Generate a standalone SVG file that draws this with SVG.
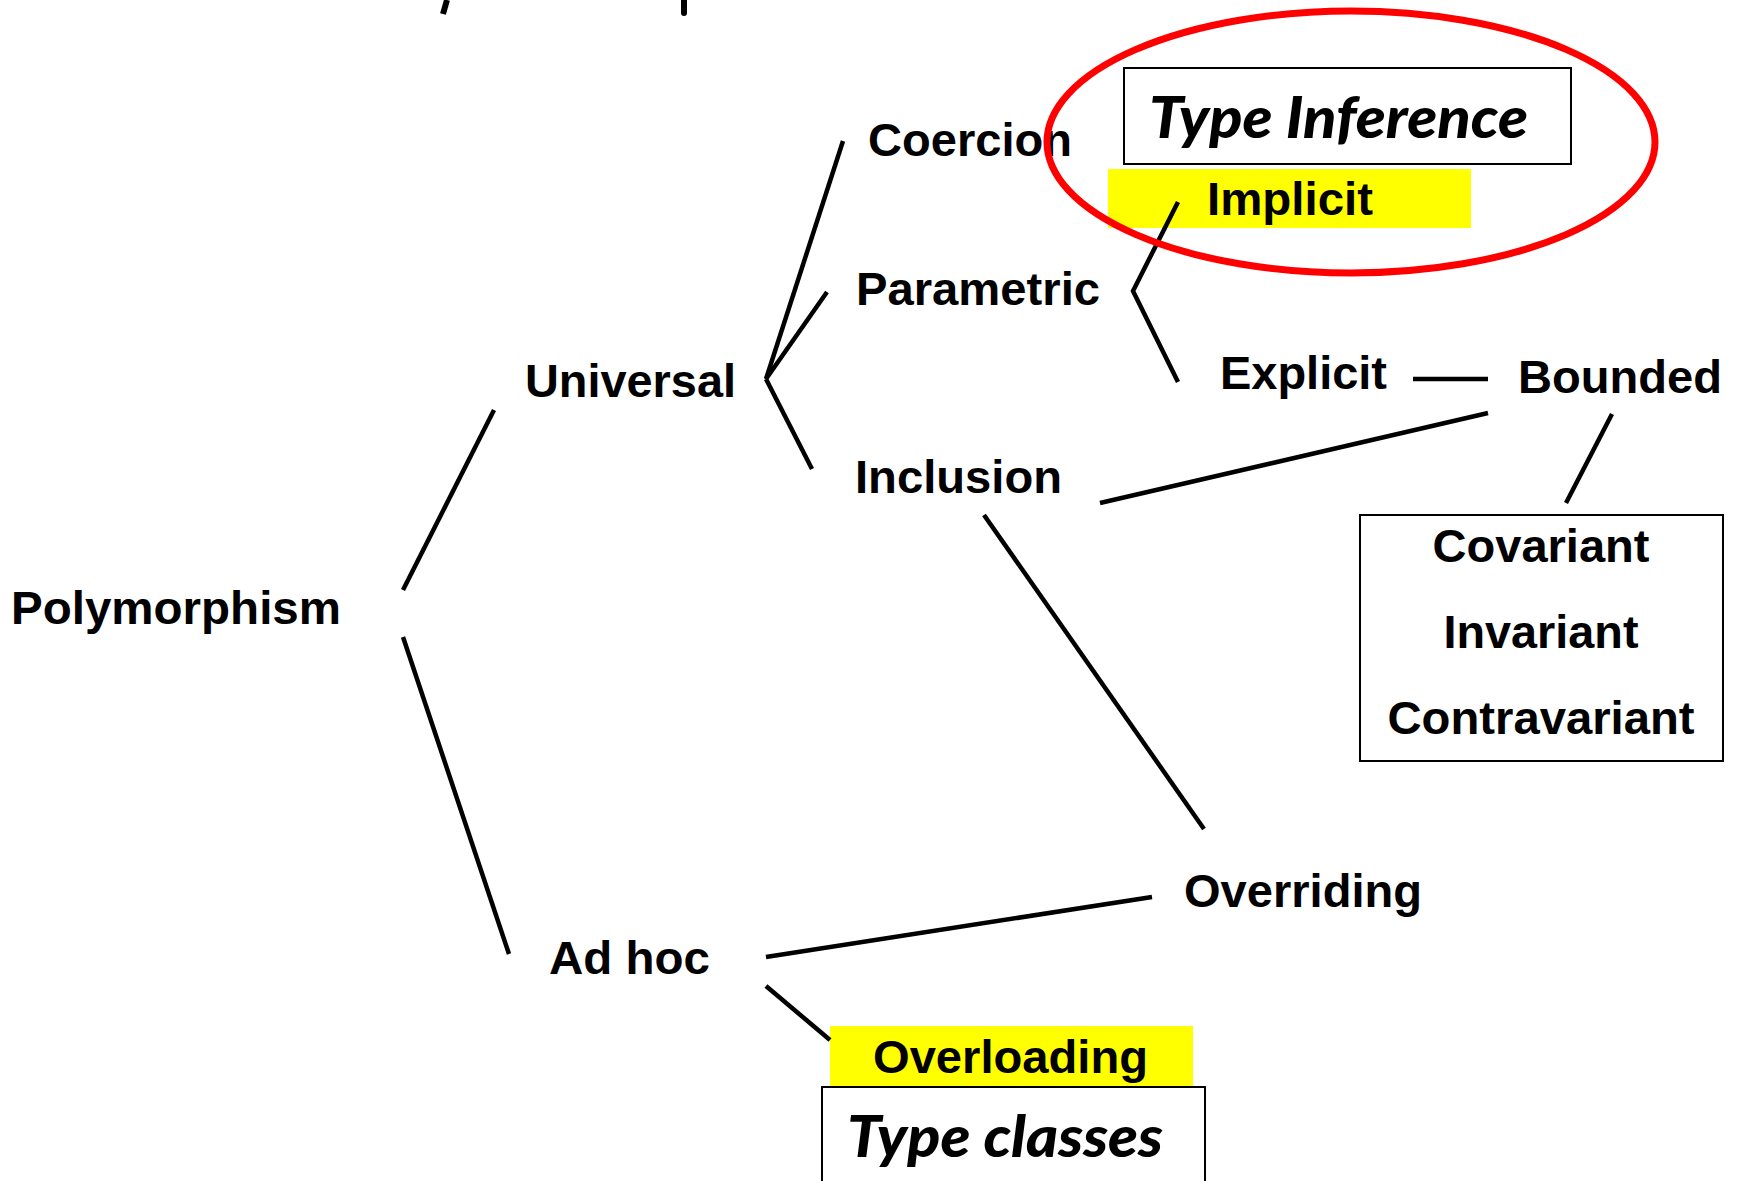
<svg xmlns="http://www.w3.org/2000/svg" width="1740" height="1181" viewBox="0 0 1740 1181">
  <style>
    .lbl { font-family: "Liberation Sans", Arial, Helvetica, sans-serif; font-weight: bold; font-size: 47px; fill: #000; }
    .ital { font-family: Lato, "Open Sans", "Liberation Sans", sans-serif; font-weight: 900; font-style: italic; font-size: 58px; fill: #000; }
    .conn { stroke: #000; stroke-width: 4.5; fill: none; }
    .box { fill: #fff; stroke: #000; stroke-width: 2; }
    .hl { fill: #FFFF00; stroke: none; }
  </style>
  <rect x="0" y="0" width="1740" height="1181" fill="#fff"/>

  <g id="title-fragments">
    <line x1="447" y1="0" x2="443" y2="14" stroke="#000" stroke-width="6"/>
    <line x1="684" y1="0" x2="684" y2="13" stroke="#000" stroke-width="6" stroke-linecap="round"/>
  </g>

  <g id="node-implicit">
    <rect class="hl" x="1108" y="169" width="363" height="59"/>
    <text class="lbl" x="1207" y="215" textLength="166" lengthAdjust="spacingAndGlyphs">Implicit</text>
  </g>

  <g id="node-overloading">
    <rect class="hl" x="830" y="1026" width="363" height="60"/>
    <text class="lbl" x="873" y="1073" textLength="275" lengthAdjust="spacingAndGlyphs">Overloading</text>
  </g>

  <g id="connectors">
    <line class="conn" x1="494" y1="410" x2="403" y2="590"/>
    <line class="conn" x1="403" y1="637" x2="509" y2="954"/>
    <line class="conn" x1="843" y1="141" x2="766" y2="379"/>
    <line class="conn" x1="827" y1="292" x2="766" y2="379"/>
    <line class="conn" x1="766" y1="379" x2="812" y2="469"/>
    <polyline class="conn" points="1178,202 1133,291 1178,382"/>
    <line class="conn" x1="1413" y1="379" x2="1488" y2="379"/>
    <line class="conn" x1="1100" y1="503" x2="1488" y2="413"/>
    <line class="conn" x1="1612" y1="414" x2="1566" y2="503"/>
    <line class="conn" x1="984" y1="515" x2="1204" y2="829"/>
    <line class="conn" x1="766" y1="957" x2="1152" y2="897"/>
    <line class="conn" x1="766" y1="986" x2="830" y2="1040"/>
  </g>

  <g id="node-polymorphism"><text class="lbl" x="11" y="624" textLength="330" lengthAdjust="spacingAndGlyphs">Polymorphism</text></g>
  <g id="node-universal"><text class="lbl" x="525" y="397" textLength="211" lengthAdjust="spacingAndGlyphs">Universal</text></g>
  <g id="node-coercion"><text class="lbl" x="868" y="156" textLength="204" lengthAdjust="spacingAndGlyphs">Coercion</text></g>
  <g id="node-parametric"><text class="lbl" x="856" y="305" textLength="244" lengthAdjust="spacingAndGlyphs">Parametric</text></g>
  <g id="node-inclusion"><text class="lbl" x="855" y="493" textLength="207" lengthAdjust="spacingAndGlyphs">Inclusion</text></g>
  <g id="node-explicit"><text class="lbl" x="1220" y="389" textLength="167" lengthAdjust="spacingAndGlyphs">Explicit</text></g>
  <g id="node-bounded"><text class="lbl" x="1518" y="393" textLength="204" lengthAdjust="spacingAndGlyphs">Bounded</text></g>
  <g id="node-overriding"><text class="lbl" x="1184" y="907" textLength="238" lengthAdjust="spacingAndGlyphs">Overriding</text></g>
  <g id="node-adhoc"><text class="lbl" x="549" y="974" textLength="161" lengthAdjust="spacingAndGlyphs">Ad hoc</text></g>

  <g id="node-type-inference">
    <rect class="box" x="1124" y="68" width="447" height="96"/>
    <text class="ital" x="1149" y="138" textLength="379" lengthAdjust="spacingAndGlyphs">Type Inference</text>
  </g>

  <g id="node-variance">
    <rect class="box" x="1360" y="515" width="363" height="246"/>
    <text class="lbl" x="1541" y="562" text-anchor="middle" textLength="217" lengthAdjust="spacingAndGlyphs">Covariant</text>
    <text class="lbl" x="1541" y="648" text-anchor="middle" textLength="195" lengthAdjust="spacingAndGlyphs">Invariant</text>
    <text class="lbl" x="1541" y="734" text-anchor="middle" textLength="307" lengthAdjust="spacingAndGlyphs">Contravariant</text>
  </g>

  <g id="node-type-classes">
    <rect class="box" x="822" y="1087" width="383" height="120"/>
    <text class="ital" x="847" y="1157" textLength="316" lengthAdjust="spacingAndGlyphs">Type classes</text>
  </g>

  <g id="highlight-ellipse">
    <ellipse cx="1351" cy="142" rx="304" ry="131" fill="none" stroke="#FF0000" stroke-width="7"/>
  </g>
</svg>
